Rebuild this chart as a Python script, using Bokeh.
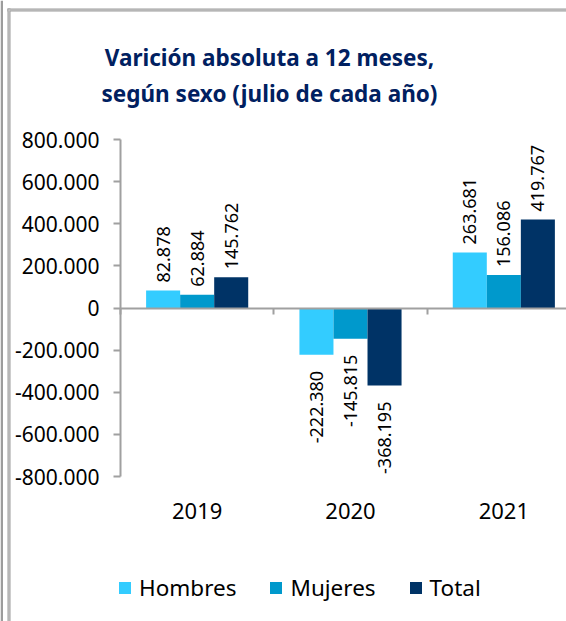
import math
from bokeh.plotting import figure
from bokeh.models import (ColumnDataSource, FixedTicker, LinearAxis, Legend,
                          LegendItem, Label, Range1d, BoxAnnotation)
from bokeh.core.properties import value
from bokeh.embed import file_html
from bokeh.resources import INLINE

# ---------------- data ----------------
years = ["2019", "2020", "2021"]
series_names = ["Hombres", "Mujeres", "Total"]
hombres = [82878, -222380, 263681]
mujeres = [62884, -145815, 156086]
total = [145762, -368195, 419767]
y_ticks = [-800000, -600000, -400000, -200000, 0, 200000, 400000, 600000, 800000]
y_tick_labels = ["-800.000", "-600.000", "-400.000", "-200.000", "0",
                 "200.000", "400.000", "600.000", "800.000"]
title_lines = ["Varición absoluta a 12 meses,", "según sexo (julio de cada año)"]

# ---------------- layout / styles ----------------
FONT = "Noto Sans"
colors = ["#33CCFF", "#0099CC", "#003366"]
TITLE_COLOR = "#002060"
AXIS_GRAY = "#a0a0a0"
FRAME_GRAY = "#9c9c9c"
FRAME_LIGHT = "#cfcfcf"
BAR_W = 0.222

W, H = 566, 621
Y_MIN, Y_MAX = y_ticks[0], y_ticks[-1]
PLOT_TOP, PLOT_BOTTOM = 139, 476          # screen px of Y_MAX / Y_MIN
AXIS_X, CAT_W = 120, 153.33               # screen px of first category boundary, px per category
u_per_px = (Y_MAX - Y_MIN) / (PLOT_BOTTOM - PLOT_TOP)
y_end = Y_MAX + PLOT_TOP * u_per_px
y_start = Y_MIN - (H - PLOT_BOTTOM) * u_per_px
x_start = -0.5 - AXIS_X / CAT_W
x_end = -0.5 + (W - AXIS_X) / CAT_W


def sx(px):
    return x_start + px / CAT_W


def sy(px):
    return y_end - px * u_per_px


p = figure(width=W, height=H,
           x_range=Range1d(x_start, x_end), y_range=Range1d(y_start, y_end),
           x_axis_type=None, y_axis_type=None,
           output_backend="svg", toolbar_location=None,
           min_border_left=0, min_border_top=0, min_border_bottom=0,
           min_border_right=0)
p.title.visible = False
p.outline_line_color = None
p.background_fill_color = "white"
p.border_fill_color = "white"

# page frame lines
def frame_box(**kw):
    p.add_layout(BoxAnnotation(fill_alpha=1, line_color=None, level="underlay", **kw))

frame_box(right=sx(2.5), fill_color=FRAME_GRAY)                       # outer left edge
frame_box(left=sx(7), right=sx(10), top=sy(8), fill_color=FRAME_GRAY)  # inner left
frame_box(left=sx(7), top=sy(8), bottom=sy(11), fill_color=FRAME_GRAY)  # top
frame_box(left=sx(8), right=sx(9), top=sy(9), fill_color=FRAME_LIGHT)
frame_box(left=sx(8), top=sy(9), bottom=sy(10), fill_color=FRAME_LIGHT)

# y axis
yax = LinearAxis(ticker=FixedTicker(ticks=y_ticks), fixed_location=-0.5,
                 bounds=(Y_MIN, Y_MAX),
                 major_label_overrides={t: l for t, l in zip(y_ticks, y_tick_labels)})
yax.axis_line_color = AXIS_GRAY
yax.axis_line_width = 2
yax.major_tick_line_color = AXIS_GRAY
yax.major_tick_line_width = 2
yax.major_tick_out = 7
yax.major_tick_in = 0
yax.minor_tick_line_color = None
yax.major_label_text_font = FONT
yax.major_label_text_font_size = "21px"
yax.major_label_text_color = "#000000"
yax.major_label_standoff = 14
p.add_layout(yax, "left")

# zero line axis with category boundary ticks (no labels)
bounds = [i - 0.5 for i in range(len(years) + 1)]
zax = LinearAxis(ticker=FixedTicker(ticks=bounds), fixed_location=0,
                 bounds=(bounds[0], bounds[-1]),
                 major_label_overrides={b: "" for b in bounds})
zax.axis_line_color = AXIS_GRAY
zax.axis_line_width = 2
zax.major_tick_line_color = AXIS_GRAY
zax.major_tick_line_width = 2
zax.major_tick_out = 6
zax.major_tick_in = 0
zax.minor_tick_line_color = None
zax.major_label_standoff = 0
p.add_layout(zax, "below")

# category label axis (at the bottom of the value range)
xax = LinearAxis(ticker=FixedTicker(ticks=list(range(len(years)))),
                 fixed_location=Y_MIN,
                 major_label_overrides={i: y for i, y in enumerate(years)})
xax.axis_line_color = None
xax.major_tick_line_color = None
xax.minor_tick_line_color = None
xax.major_label_text_font = FONT
xax.major_label_text_font_size = "22px"
xax.major_label_text_color = "#000000"
xax.major_label_standoff = 20
p.add_layout(xax, "below")

# bars
items = []
all_x, all_v = [], []
for k, (name, vals) in enumerate(zip(series_names, [hombres, mujeres, total])):
    xs = [i + (k - 1) * BAR_W for i in range(len(years))]
    src = ColumnDataSource(dict(x=xs, top=vals))
    r = p.vbar(x="x", top="top", bottom=0, width=BAR_W, source=src,
               fill_color=colors[k], line_color=None)
    items.append(LegendItem(label=name, renderers=[r]))
    all_x += xs
    all_v += vals

# value labels
lab_txt = [f"{v:,}".replace(",", ".") for v in all_v]
lab_align = ["left" if v >= 0 else "right" for v in all_v]
lab_off = [-8 if v >= 0 else 16 for v in all_v]
lsrc = ColumnDataSource(dict(x=all_x, y=all_v, t=lab_txt, a=lab_align, o=lab_off))
p.text(x="x", y="y", text="t", source=lsrc, angle=math.pi / 2,
       text_align="a", text_baseline="middle", y_offset="o",
       text_font=value(FONT), text_font_size="18px", text_color="#000000")

# title
for j, line in enumerate(title_lines):
    p.add_layout(Label(x=269, y=H - 57 - 36 * j, x_units="screen", y_units="screen",
                       text=line, text_align="center", text_baseline="alphabetic",
                       text_font=FONT, text_font_size="22.5px", text_font_style="bold",
                       text_color=TITLE_COLOR))

# legend
legend = Legend(items=items, orientation="horizontal", location=(117, 18),
                glyph_width=15, glyph_height=15, label_standoff=7, spacing=32,
                padding=0, margin=0, border_line_color=None,
                background_fill_alpha=0,
                label_text_font=FONT, label_text_font_size="22.5px",
                label_text_color="#000000")
p.add_layout(legend, "center")

open("out.html", "w").write(file_html(p, INLINE))
